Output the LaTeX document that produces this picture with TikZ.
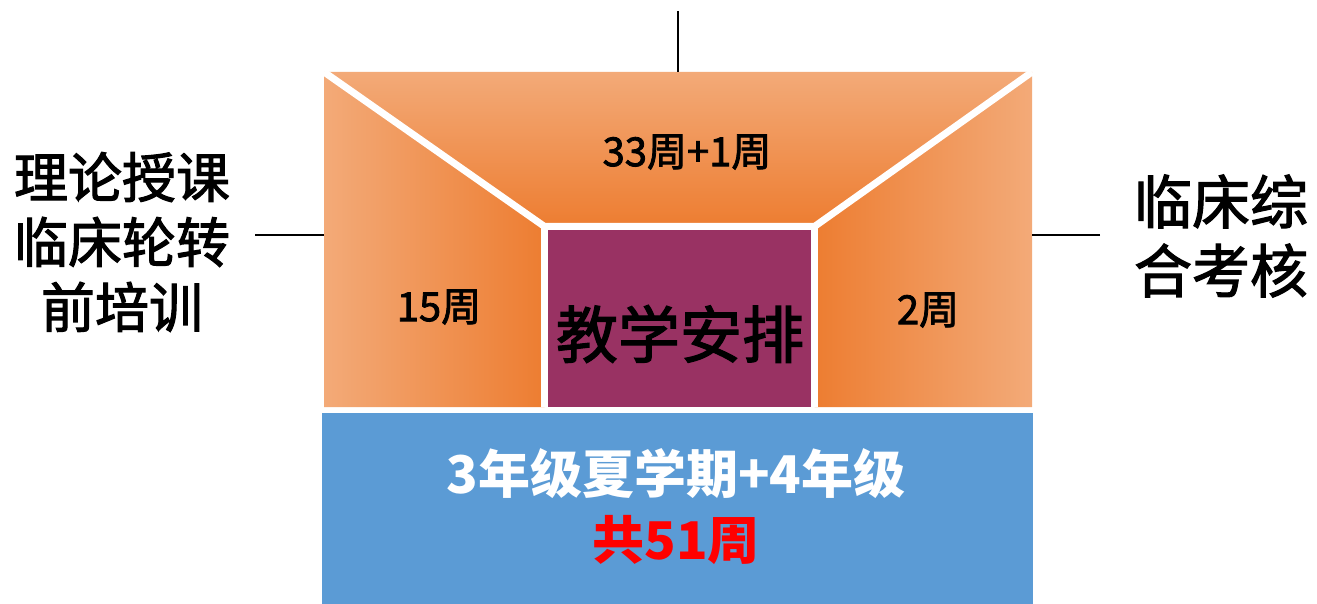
\documentclass[tikz,border=0pt]{standalone}
\usepackage{fontspec}
\setmainfont{Noto Sans CJK SC}
\newfontfamily\hv{Noto Sans CJK SC}[FakeBold=2]
\definecolor{orlight}{RGB}{243,170,120}
\definecolor{ordark}{RGB}{237,125,49}
\definecolor{plum}{RGB}{153,50,99}
\definecolor{sky}{RGB}{91,155,213}
\begin{document}
\begin{tikzpicture}[x=1pt,y=-1pt,
  lbl/.style={font=\hv\fontsize{54}{65}\selectfont, align=center, inner sep=0},
  lblr/.style={font=\hv\fontsize{58}{69}\selectfont, align=center, inner sep=0},
  wk/.style={font=\hv\fontsize{40}{48}\selectfont, inner sep=0},
  big/.style={font=\hv\fontsize{62}{70}\selectfont, inner sep=0},
  termtxt/.style={font=\bfseries\fontsize{52}{60}\selectfont, inner sep=0},
  conn/.style={draw=black, line width=1.6pt},
  sepline/.style={draw=white, line width=7pt},
  boxnode/.style={inner sep=0, outer sep=0}]
\useasboundingbox (0,0) rectangle (1317,604);
% outer frame (invisible)
\node[boxnode, minimum width=708, minimum height=335] (frame) at (678,239.5) {};
\coordinate (inNW) at (544.5,226.5);
\coordinate (inNE) at (814.5,226.5);
\coordinate (inSW) at (544.5,407);
\coordinate (inSE) at (814.5,407);
% orange shapes
\shade[top color=orlight, bottom color=ordark] (frame.north west) -- (frame.north east) -- (inNE) -- (inNW) -- cycle;
\shade[left color=orlight, right color=ordark] (frame.north west) -- (inNW) -- (inSW) -- (frame.south west) -- cycle;
\shade[left color=ordark, right color=orlight] (frame.north east) -- (inNE) -- (inSE) -- (frame.south east) -- cycle;
% white separators
\draw[sepline] (frame.north west) -- (inNW) -- (inNE) -- (frame.north east);
\draw[sepline] (inNW) -- (inSW);
\draw[sepline] (inNE) -- (inSE);
% centre box
\node[boxnode, fill=plum, minimum width=263, minimum height=177] (plan) at (679.5,318.5) {};
\node[big] (plantext) at (680,334) {教学安排};
% week labels
\node[wk] (topweeks) at (687,152) {33周+1周};
\node[wk] (leftweeks) at (439,307) {15周};
\node[wk] (rightweeks) at (928,310) {2周};
% blue box
\node[boxnode, fill=sky, minimum width=711, minimum height=191] (term) at (677.5,508.5) {};
\node[termtxt, text=white] (termline) at (676,474) {3年级夏学期+4年级};
\node[termtxt, text=red] (total) at (676,540) {共51周};
% side labels
\node[lbl] (leftlabel) at (122,242) {理论授课\\临床轮转\\前培训};
\node[lblr] (rightlabel) at (1221,236) {临床综\\合考核};
% connectors
\coordinate (topend) at (678,11);
\coordinate (lend) at (255,235);
\coordinate (rend) at (1100,235);
\draw[conn] (topend) -- (frame.north);
\draw[conn] (lend) -- (lend -| frame.west);
\draw[conn] (rend) -- (rend -| frame.east);
\end{tikzpicture}
\end{document}
